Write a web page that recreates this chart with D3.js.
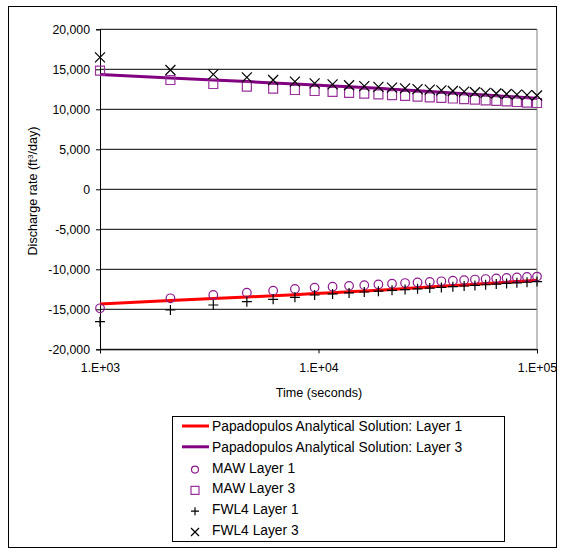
<!DOCTYPE html>
<html>
<head>
<meta charset="utf-8">
<script src="https://cdn.jsdelivr.net/npm/d3@7"></script>
<style>
  body { margin: 0; background: #fff; }
  svg text { font-family: "Liberation Sans", Arial, sans-serif; fill: #000; }
</style>
</head>
<body>
<div id="chart"></div>
<script>
// time (seconds) of each output
const times = [1000, 2100, 3300, 4700, 6200, 7800, 9600, 11600, 13800, 16200, 18800, 21700, 24900,
    28400, 32300, 36500, 41200, 46400, 52000, 58200, 65100, 72600, 80900, 90000, 100000]

const analyticLayer1 = [-14340, -13900, -13660, -13460, -13300, -13170, -13040, -12920, -12820, -12720,
    -12630, -12520, -12410, -12320, -12220, -12130, -12040, -11950, -11860, -11780, -11700, -11610,
    -11530, -11450, -11380]
const analyticLayer3 = [14340, 13900, 13660, 13460, 13300, 13170, 13040, 12920, 12820, 12720,
    12630, 12520, 12410, 12320, 12220, 12130, 12040, 11950, 11860, 11780, 11700, 11610,
    11530, 11450, 11380]
const mawLayer1 = [-14875, -13625, -13210, -12920, -12670, -12460, -12290, -12180, -12070, -11980,
    -11890, -11800, -11720, -11640, -11570, -11500, -11420, -11350, -11280, -11220, -11150, -11090,
    -11020, -10960, -10910]
const mawLayer3 = [14830, 13660, 13160, 12830, 12580, 12410, 12290, 12170, 12060, 11950,
    11860, 11760, 11670, 11590, 11500, 11430, 11350, 11270, 11200, 11120, 11050, 10980,
    10910, 10840, 10790]
const fwlLayer1 = [-16550, -15090, -14460, -14050, -13750, -13500, -13210, -13080, -12950, -12840,
    -12730, -12630, -12530, -12440, -12350, -12260, -12170, -12090, -12010, -11930, -11850, -11770,
    -11690, -11620, -11540]
const fwlLayer3 = [16500, 14910, 14375, 14000, 13660, 13450, 13250, 13120, 13010, 12900,
    12810, 12710, 12620, 12530, 12450, 12370, 12290, 12210, 12130, 12060, 11980, 11910,
    11840, 11770, 11720]

const yTicks = [-20000, -15000, -10000, -5000, 0, 5000, 10000, 15000, 20000]
const xTicks = [1000, 10000, 100000]
const xTickLabels = ["1.E+03", "1.E+04", "1.E+05"]

const legendItems = [
    {label: "Papadopulos Analytical Solution: Layer 1", kind: "line", color: "#ff0000"},
    {label: "Papadopulos Analytical Solution: Layer 3", kind: "line", color: "#800080"},
    {label: "MAW Layer 1", kind: "circle", color: "#8b1a8b"},
    {label: "MAW Layer 3", kind: "square", color: "#993399"},
    {label: "FWL4 Layer 1", kind: "plus", color: "#000"},
    {label: "FWL4 Layer 3", kind: "x", color: "#000"}
]

const width = 566, height = 555
const plot = {left: 100, right: 537, top: 29.3, bottom: 349.3}

const svg = d3.select("#chart").append("svg")
    .attr("width", width)
    .attr("height", height)

// outer chart border
svg.append("rect")
    .attr("x", 8.5).attr("y", 6.5)
    .attr("width", 548).attr("height", 541)
    .attr("fill", "none").attr("stroke", "#000").attr("stroke-width", 1)

const x = d3.scaleLog().domain([1000, 100000]).range([plot.left, plot.right])
const y = d3.scaleLinear().domain([-20000, 20000]).range([plot.bottom, plot.top])

const fmt = d3.formatLocale({decimal: ".", thousands: ",", grouping: [3], currency: ["", ""], minus: "-"}).format(",")

// horizontal gridlines
svg.append("g")
    .selectAll("line")
    .data(yTicks)
    .enter().append("line")
    .attr("x1", plot.left).attr("x2", plot.right)
    .attr("y1", d => y(d)).attr("y2", d => y(d))
    .attr("stroke", "#000").attr("stroke-width", 1)

// right edge of plot area
svg.append("line")
    .attr("x1", plot.right).attr("x2", plot.right)
    .attr("y1", plot.top).attr("y2", plot.bottom)
    .attr("stroke", "#808080").attr("stroke-width", 1)

// axes
const yAxis = d3.axisLeft(y).tickValues(yTicks).tickSize(4).tickPadding(6).tickFormat(fmt)
const gy = svg.append("g")
    .attr("transform", "translate(" + plot.left + ",0)")
    .call(yAxis)
gy.select(".domain").attr("stroke", "#000")
gy.selectAll("text").style("font-size", "12.3px").style("font-family", "Liberation Sans, Arial, sans-serif")

const xAxis = d3.axisBottom(x).tickValues(xTicks).tickSize(4).tickPadding(10)
    .tickFormat((d, i) => xTickLabels[i])
const gx = svg.append("g")
    .attr("transform", "translate(0," + plot.bottom + ")")
    .call(xAxis)
gx.selectAll("text").style("font-size", "12.3px").style("font-family", "Liberation Sans, Arial, sans-serif")

// axis titles
svg.append("text")
    .attr("x", 319).attr("y", 397)
    .attr("text-anchor", "middle")
    .style("font-size", "12.6px")
    .text("Time (seconds)")

const yTitle = svg.append("text")
    .attr("transform", "translate(37,191) rotate(-90)")
    .attr("text-anchor", "middle")
    .style("font-size", "12.6px")
yTitle.append("tspan").text("Discharge rate (ft")
yTitle.append("tspan").attr("dy", -4).style("font-size", "8px").text("3")
yTitle.append("tspan").attr("dy", 4).text("/day)")

// marker shapes
function markerPath(kind, s) {
    const h = s / 2
    if (kind === "square") return "M" + (-h) + "," + (-h) + "h" + s + "v" + s + "h" + (-s) + "Z"
    if (kind === "plus") return "M" + (-h) + ",0h" + s + "M0," + (-h) + "v" + s
    if (kind === "x") return "M" + (-h) + "," + (-h) + "L" + h + "," + h + "M" + (-h) + "," + h + "L" + h + "," + (-h)
    return ""
}

function drawLine(values, color) {
    const line = d3.line()
        .x((d, i) => x(times[i]))
        .y(d => y(d))
    svg.append("path")
        .datum(values)
        .attr("d", line)
        .attr("fill", "none")
        .attr("stroke", color)
        .attr("stroke-width", 3)
}

function drawMarkers(values, kind, color) {
    const g = svg.append("g")
    if (kind === "circle") {
        g.selectAll("circle")
            .data(values)
            .enter().append("circle")
            .attr("cx", (d, i) => x(times[i]))
            .attr("cy", d => y(d))
            .attr("r", 4.3)
            .attr("fill", "none")
            .attr("stroke", color)
            .attr("stroke-width", 1.2)
    } else {
        g.selectAll("path")
            .data(values)
            .enter().append("path")
            .attr("transform", (d, i) => "translate(" + x(times[i]) + "," + y(d) + ")")
            .attr("d", markerPath(kind, kind === "square" ? 9 : 10))
            .attr("fill", "none")
            .attr("stroke", color)
            .attr("stroke-width", 1.2)
    }
}

drawLine(analyticLayer1, legendItems[0].color)
drawLine(analyticLayer3, legendItems[1].color)
drawMarkers(mawLayer1, "circle", legendItems[2].color)
drawMarkers(mawLayer3, "square", legendItems[3].color)
drawMarkers(fwlLayer1, "plus", legendItems[4].color)
drawMarkers(fwlLayer3, "x", legendItems[5].color)

// legend
const legendBox = {x: 172, y: 416.5, w: 332, h: 125}
svg.append("rect")
    .attr("x", legendBox.x + 0.5).attr("y", legendBox.y)
    .attr("width", legendBox.w).attr("height", legendBox.h)
    .attr("fill", "#fff").attr("stroke", "#000").attr("stroke-width", 1)

const legend = svg.selectAll(".legends")
    .data(legendItems)
    .enter().append("g")
    .attr("class", "legends")
    .attr("transform", (d, i) => "translate(" + legendBox.x + "," + (426 + i * 20.8) + ")")

legend.each(function (d) {
    const g = d3.select(this)
    if (d.kind === "line") {
        g.append("line")
            .attr("x1", 10).attr("x2", 37)
            .attr("y1", 0).attr("y2", 0)
            .attr("stroke", d.color).attr("stroke-width", 3)
    } else if (d.kind === "circle") {
        g.append("circle")
            .attr("cx", 23).attr("cy", 2).attr("r", 3.5)
            .attr("fill", "none").attr("stroke", d.color).attr("stroke-width", 1.2)
    } else {
        g.append("path")
            .attr("transform", "translate(23,2)")
            .attr("d", markerPath(d.kind, 8))
            .attr("fill", "none").attr("stroke", d.color).attr("stroke-width", 1.2)
    }
})

legend.append("text")
    .attr("x", 40)
    .attr("y", 5)
    .style("font-size", "13.8px")
    .text(d => d.label)
</script>
</body>
</html>
